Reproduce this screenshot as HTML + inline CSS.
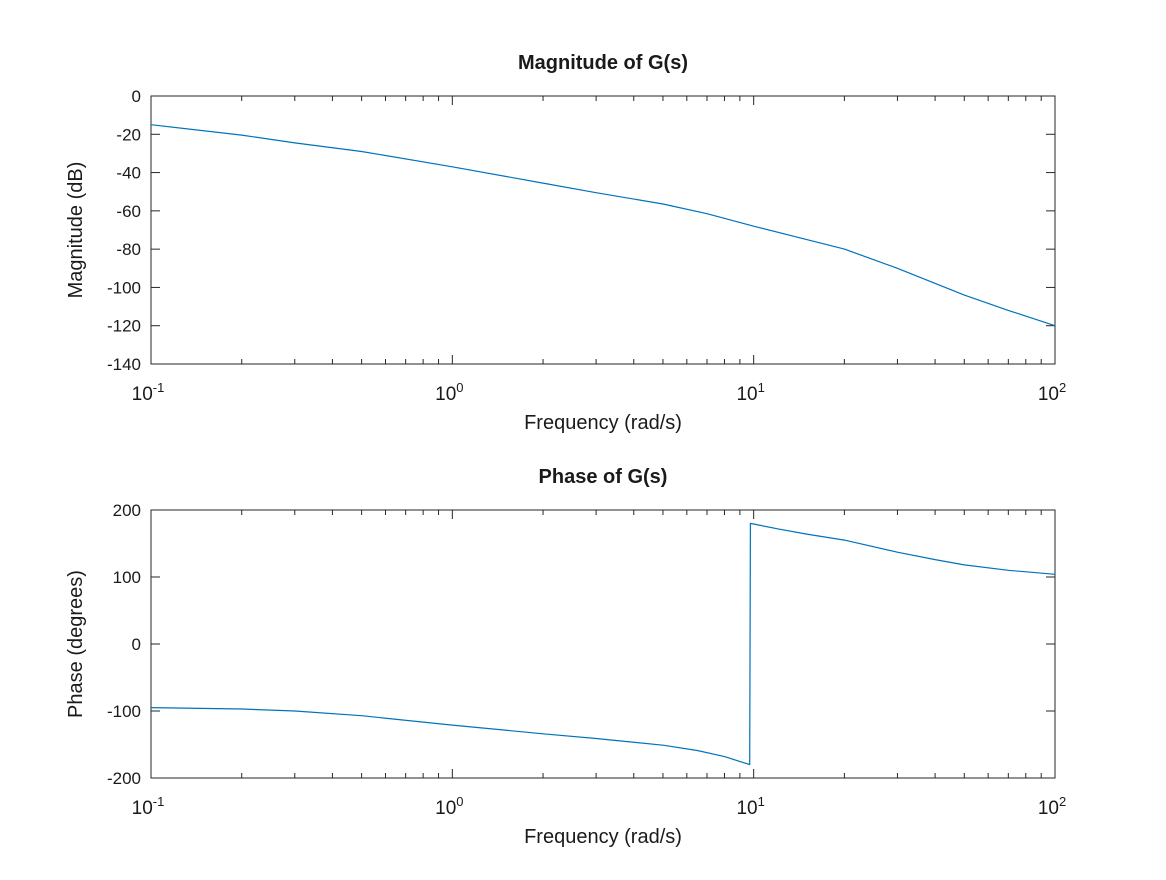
<!DOCTYPE html>
<html><head><meta charset="utf-8"><style>
body{margin:0;background:#fff;}
svg text{font-family:"Liberation Sans",sans-serif;fill:#1a1a1a;}
</style></head><body>
<svg id="fig" width="1166" height="875" xmlns="http://www.w3.org/2000/svg"></svg>
<script>
const magFreq=[0.1,0.2,0.3,0.5,1,2,3,5,7,10,15,20,30,50,70,100];
const magDb=[-15,-20.4,-24.5,-29,-37,-45.5,-50.5,-56.4,-61.5,-68,-75,-80,-90,-104,-112,-120];
const phFreq=[0.1,0.2,0.3,0.5,1,2,3,5,6.5,8,9.7,9.75,12,15,20,30,40,50,70,100];
const phDeg=[-95,-97,-100,-107,-121,-134,-141,-151,-159,-168,-180,180,172,164,155,137,126,118,110,104];
const magTicks=[0,-20,-40,-60,-80,-100,-120,-140];
const phTicks=[200,100,0,-100,-200];
const xDecades=[-1,0,1,2];

const NS="http://www.w3.org/2000/svg";
const svg=document.getElementById('fig');
function mk(t,a,p){const e=document.createElementNS(NS,t);for(const k in a)e.setAttribute(k,a[k]);(p||svg).appendChild(e);return e;}
const X0=151,X1=1055;
function xs(f){return X0+(Math.log10(f)+1)/3*(X1-X0);}

function panel(name,top,bot,ymin,ymax,ticks,fr,vals,title,ylabel){
  const g=mk('g',{});
  
  
  const ys=v=>bot-(v-ymin)/(ymax-ymin)*(bot-top);
  mk('rect',{x:X0,y:top,width:X1-X0,height:bot-top,fill:'#fff',stroke:'#262626','stroke-width':1},g);
  ticks.forEach(v=>{const y=ys(v);
    mk('line',{x1:X0,x2:X0+9,y1:y,y2:y,stroke:'#262626'},g);
    mk('line',{x1:X1,x2:X1-9,y1:y,y2:y,stroke:'#262626'},g);
    const t=mk('text',{x:X0-10,y:y+6,'text-anchor':'end','font-size':17},g);t.textContent=v;
    
  });
  xDecades.forEach(d=>{
    const x=xs(Math.pow(10,d));
    mk('line',{x1:x,x2:x,y1:bot,y2:bot-9,stroke:'#262626'},g);
    mk('line',{x1:x,x2:x,y1:top,y2:top+9,stroke:'#262626'},g);
    const t=mk('text',{x:x-3,y:bot+36,'text-anchor':'middle','font-size':19},g);
    
    t.textContent='10';const s=mk('tspan',{dy:-8,'font-size':13},t);s.textContent=d;
    if(d<2)for(let m=2;m<10;m++){const xm=xs(m*Math.pow(10,d));
      mk('line',{x1:xm,x2:xm,y1:bot,y2:bot-5,stroke:'#262626'},g);
      mk('line',{x1:xm,x2:xm,y1:top,y2:top+5,stroke:'#262626'},g);}
  });
  const pts=fr.map((f,i)=>xs(f).toFixed(1)+','+ys(vals[i]).toFixed(1)).join(' ');
  const pl=mk('polyline',{points:pts,fill:'none',stroke:'#0072bd','stroke-width':1.2,'stroke-linejoin':'round'},g);
  
  const tt=mk('text',{x:(X0+X1)/2,y:top-27,'text-anchor':'middle','font-size':20,'font-weight':'bold'},g);tt.textContent=title;
  
  const xl=mk('text',{x:(X0+X1)/2,y:bot+65,'text-anchor':'middle','font-size':20},g);xl.textContent='Frequency (rad/s)';
  
  const cy=(top+bot)/2;
  const yl=mk('text',{x:82,y:cy,'text-anchor':'middle','font-size':20,transform:'rotate(-90 82 '+cy+')'},g);yl.textContent=ylabel;
  
}
panel('magnitude',96,364,-140,0,magTicks,magFreq,magDb,'Magnitude of G(s)','Magnitude (dB)');
panel('phase',510,778,-200,200,phTicks,phFreq,phDeg,'Phase of G(s)','Phase (degrees)');
</script>
</body></html>
